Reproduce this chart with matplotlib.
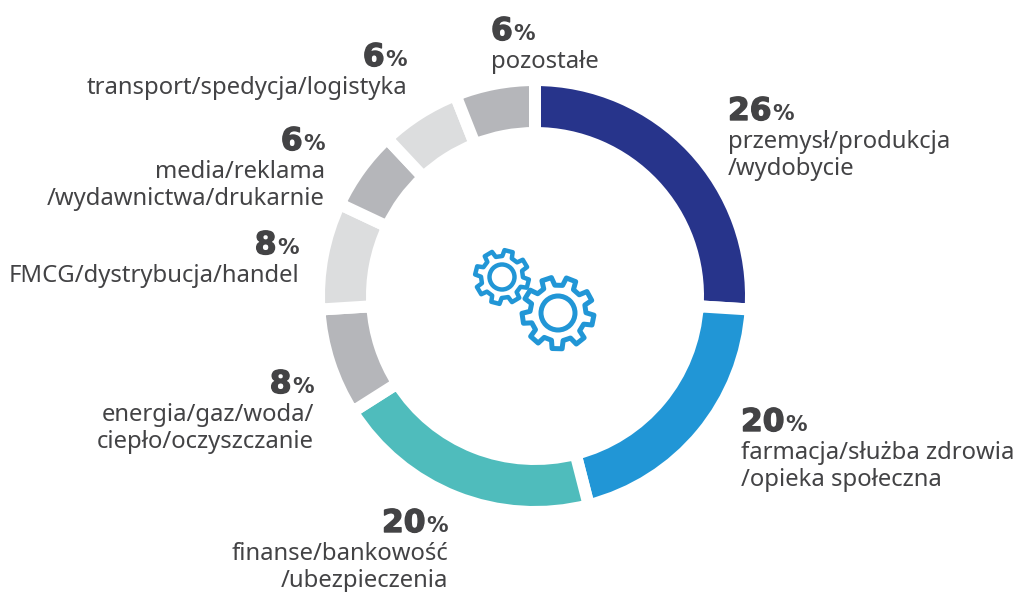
import numpy as np
import matplotlib as mpl
mpl.use( 'Agg' )
import matplotlib.pyplot as plt
import matplotlib.patheffects as pe
from matplotlib.patches import Circle, Polygon

W, H = 1017, 592

# data, clockwise from the top
categories = [ 'przemysł', 'farmacja', 'finanse', 'energia', 'FMCG', 'media', 'transport', 'pozostałe' ]
shares = [ 26, 20, 20, 8, 8, 6, 6, 6 ]
colors = [ '#27348b', '#2196d6', '#4fbcbc', '#b5b6ba', '#dcddde', '#b5b6ba', '#dcddde', '#b5b6ba' ]

label_lines = [
    [ 'przemysł/produkcja', '/wydobycie' ],
    [ 'farmacja/służba zdrowia', '/opieka społeczna' ],
    [ 'finanse/bankowość', '/ubezpieczenia' ],
    [ 'energia/gaz/woda/', 'ciepło/oczyszczanie' ],
    [ 'FMCG/dystrybucja/handel' ],
    [ 'media/reklama', '/wydawnictwa/drukarnie' ],
    [ 'transport/spedycja/logistyka' ],
    [ 'pozostałe' ],
]
label_x = [ 728, 741, 448, 314, 299, 325, 407, 491 ]
label_y = [ 120, 431, 532, 393, 254, 150, 66, 40 ]
label_ha = [ 'left', 'left', 'right', 'right', 'right', 'right', 'right', 'left' ]

TEXT = '#434345'
GEAR = '#2196d6'
GAP = 12
CX, CY = 535, 296

fig = plt.figure( figsize = ( W / 100, H / 100 ), dpi = 100 )
ax = fig.add_axes( [ 0, 0, 1, 1 ] )
ax.set_xlim( 0, W )
ax.set_ylim( H, 0 )
ax.axis( 'off' )

# the ring is drawn on its own axes so the pie keeps a normal y direction
pie_ax = fig.add_axes( [ 0, 0, 1, 1 ] )
outer = 210 + GAP / 2
pie_ax.pie( shares, colors = colors, startangle = 90, counterclock = False,
            center = ( CX, H - CY ), radius = outer, frame = True,
            wedgeprops = dict( width = 41 + GAP, edgecolor = 'white', linewidth = GAP * 0.72 ) )
pie_ax.set_xlim( 0, W )
pie_ax.set_ylim( 0, H )
pie_ax.axis( 'off' )

def gear( x, y, r_out, r_root, r_hub, teeth, phase, lw ):
    pts = []
    step = 2 * np.pi / teeth
    for i in range( teeth ):
        a = phase + step * i
        for frac, r in [ ( -0.30, r_root ), ( -0.20, r_out ), ( 0.20, r_out ), ( 0.30, r_root ) ]:
            pts.append( ( x + r * np.cos( a + frac * step ), y + r * np.sin( a + frac * step ) ) )
    ax.add_patch( Polygon( pts, closed = True, fill = False, edgecolor = GEAR, linewidth = lw, joinstyle = 'round' ) )
    ax.add_patch( Circle( ( x, y ), r_hub, fill = False, edgecolor = GEAR, linewidth = lw ) )

gear( 502, 277, 27, 21, 12.5, 8, 0.25, 3.2 )
gear( 558, 313, 36, 28, 17, 9, 0.2, 3.6 )

fig.canvas.draw()
renderer = fig.canvas.get_renderer()

heavy = [ pe.withStroke( linewidth = 1.0, foreground = TEXT ) ]
num_style = dict( va = 'baseline', fontsize = 22.5, fontweight = 'bold', color = TEXT, family = 'DejaVu Sans', path_effects = heavy )
pct_style = dict( va = 'baseline', fontsize = 15.5, fontweight = 'bold', color = TEXT, family = 'DejaVu Sans' )

for share, lines, x, y, ha in zip( shares, label_lines, label_x, label_y, label_ha ):
    if ha == 'left':
        num = ax.text( x, y, str( share ), ha = 'left', **num_style )
        ax.text( x + num.get_window_extent( renderer ).width + 1, y, '%', ha = 'left', **pct_style )
    else:
        pct = ax.text( x, y, '%', ha = 'right', **pct_style )
        ax.text( x - pct.get_window_extent( renderer ).width - 1, y, str( share ), ha = 'right', **num_style )
    for i, line in enumerate( lines ):
        ax.text( x, y + 28 + 27 * i, line, ha = ha, va = 'baseline', fontsize = 17.2,
                 color = TEXT, family = 'Noto Sans' )

fig.savefig( 'out.png', dpi = 100 )
